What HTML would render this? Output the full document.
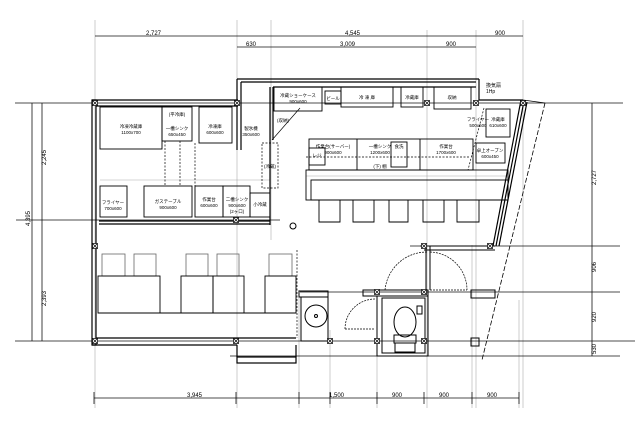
<!DOCTYPE html>
<html><head><meta charset="utf-8"><style>
html,body{margin:0;padding:0;background:#fff;}
svg{display:block;}
text{font-family:"Liberation Sans","Noto Sans CJK JP",sans-serif;fill:#000;}
</style></head><body>
<svg width="640" height="423" viewBox="0 0 640 423" xmlns="http://www.w3.org/2000/svg">
<defs>
<g id="xm"><rect x="-2.5" y="-2.5" width="5" height="5" fill="#fff" stroke="#000" stroke-width="0.7"/><path d="M-2.5 -2.5 L2.5 2.5 M2.5 -2.5 L-2.5 2.5" stroke="#000" stroke-width="0.7"/></g>
</defs>
<g stroke="#aaa" stroke-width="0.6" fill="none">
<line x1="95" y1="20" x2="95" y2="408"/>
<line x1="237" y1="20" x2="237" y2="408"/>
<line x1="271" y1="20" x2="271" y2="240"/>
<line x1="427" y1="30" x2="427" y2="408"/>
<line x1="476" y1="30" x2="476" y2="408"/>
<line x1="523" y1="20" x2="523" y2="408"/>
<line x1="299" y1="290" x2="299" y2="408"/>
<line x1="330" y1="330" x2="330" y2="408"/>
<line x1="377" y1="300" x2="377" y2="408"/>
<line x1="472" y1="245" x2="472" y2="408"/>
<line x1="519" y1="300" x2="519" y2="408"/>
<line x1="100" y1="180" x2="270" y2="180"/>
<line x1="306" y1="176" x2="508" y2="176"/>
</g>
<g stroke="#111" stroke-width="0.8" fill="none">
<line x1="95" y1="36" x2="523" y2="36"/>
<line x1="237" y1="47" x2="476" y2="47"/>
<line x1="15" y1="103" x2="623" y2="103"/>
<line x1="15" y1="341" x2="635" y2="341"/>
<line x1="410" y1="246" x2="620" y2="246"/>
<line x1="300" y1="292" x2="620" y2="292"/>
<line x1="230" y1="356" x2="620" y2="356"/>
<line x1="16" y1="220" x2="280" y2="220"/>
<line x1="32" y1="103" x2="32" y2="341"/>
<line x1="42" y1="103" x2="42" y2="341"/>
<line x1="592" y1="103" x2="592" y2="356"/>
<line x1="94" y1="398" x2="519" y2="398"/>
</g>
<g stroke="#111" stroke-width="0.8">
<line x1="94" y1="392" x2="94" y2="404"/><line x1="236" y1="392" x2="236" y2="404"/>
<line x1="299" y1="392" x2="299" y2="404"/><line x1="330" y1="392" x2="330" y2="404"/>
<line x1="377" y1="392" x2="377" y2="404"/><line x1="424" y1="392" x2="424" y2="404"/>
<line x1="472" y1="392" x2="472" y2="404"/><line x1="519" y1="392" x2="519" y2="404"/>
</g>
<g stroke="#000" stroke-width="1.2" fill="none">
<rect x="92" y="100" width="4" height="245"/>
<line x1="92" y1="100" x2="238" y2="100"/>
<line x1="96" y1="106" x2="238" y2="106"/>
<line x1="237" y1="79" x2="479" y2="79"/>
<line x1="241" y1="82" x2="476" y2="82"/>
<line x1="237" y1="79" x2="237" y2="150"/>
<line x1="241" y1="82" x2="241" y2="150"/>
<line x1="479" y1="79" x2="479" y2="100"/>
<line x1="479" y1="100" x2="523" y2="100"/>
<line x1="270" y1="87" x2="270" y2="225"/>
<line x1="273" y1="87" x2="273" y2="140"/>
<line x1="273" y1="87" x2="476" y2="87"/>
<line x1="96" y1="338" x2="296" y2="338"/>
<line x1="92" y1="345" x2="237" y2="345"/>
<line x1="99" y1="221" x2="270" y2="221"/>
<line x1="99" y1="224" x2="270" y2="224"/>
<rect x="237" y="357" width="59" height="6"/>
<line x1="237" y1="345" x2="237" y2="357"/>
<line x1="296" y1="345" x2="296" y2="357"/>
<line x1="521" y1="100" x2="493" y2="246"/>
<line x1="524" y1="101" x2="496" y2="246"/>
<line x1="527" y1="102" x2="499" y2="246"/>
</g>
<line x1="545" y1="103" x2="482" y2="360" stroke="#000" stroke-width="0.8" stroke-dasharray="5,2"/>
<line x1="523" y1="100" x2="545" y2="103" stroke="#000" stroke-width="0.8"/>
<g stroke="#000" stroke-width="0.9" fill="none">
<rect x="100" y="107" width="62" height="42"/>
<rect x="162" y="107" width="30" height="34"/>
<rect x="199" y="107" width="33" height="36"/>
<rect x="100" y="186" width="27" height="31"/>
<rect x="144" y="186" width="48" height="31"/>
<rect x="195" y="186" width="28" height="31"/>
<rect x="223" y="186" width="27" height="31"/>
<rect x="250" y="193" width="20" height="24"/>
<rect x="274" y="87" width="48" height="24"/>
<rect x="325" y="91" width="16" height="13"/>
<rect x="341" y="87" width="52" height="20"/>
<rect x="401" y="87" width="22" height="20"/>
<rect x="434" y="87" width="37" height="22"/>
<rect x="309" y="139" width="164" height="31"/>
<line x1="357" y1="139" x2="357" y2="170"/>
<line x1="420" y1="139" x2="420" y2="170"/>
<rect x="391" y="142" width="16" height="25"/>
<rect x="309" y="148" width="16" height="17"/>
<rect x="306" y="170" width="202" height="30"/>
<rect x="311" y="180" width="197" height="20"/>
<rect x="476" y="143" width="29" height="20"/>
<rect x="486" y="109" width="24" height="28"/>
</g>
<g stroke="#000" stroke-width="0.7" fill="none" stroke-dasharray="2,1.5">
<rect x="262" y="143" width="16" height="45"/>
<line x1="165" y1="141" x2="165" y2="186"/>
<line x1="180" y1="141" x2="180" y2="186"/>
<line x1="195" y1="143" x2="195" y2="186"/>
<line x1="306" y1="157" x2="470" y2="157"/>
<line x1="484" y1="108" x2="468" y2="170"/>
<line x1="297" y1="250" x2="297" y2="338"/>
</g>
<line x1="272" y1="140" x2="300" y2="108" stroke="#000" stroke-width="0.7"/>
<g stroke="#000" stroke-width="0.9" fill="none">
<path d="M319 200 V222 H340 V200"/><path d="M353 200 V222 H374 V200"/>
<path d="M389 200 V222 H408 V200"/><path d="M423 200 V222 H444 V200"/>
<path d="M457 200 V222 H479 V200"/>
</g>
<g stroke="#666" stroke-width="0.8" fill="none">
<rect x="102" y="254" width="23" height="22"/><rect x="134" y="254" width="22" height="22"/>
<rect x="186" y="254" width="22" height="22"/><rect x="217" y="254" width="22" height="22"/>
<rect x="269" y="254" width="23" height="22"/>
</g>
<g stroke="#000" stroke-width="0.9" fill="none">
<rect x="98" y="276" width="62" height="37"/><rect x="181" y="276" width="32" height="37"/>
<rect x="213" y="276" width="31" height="37"/><rect x="265" y="276" width="31" height="37"/>
<line x1="98" y1="313" x2="296" y2="313"/>
</g>
<g stroke="#000" stroke-width="1" fill="none">
<rect x="299" y="291" width="29" height="6"/>
<rect x="301" y="297" width="27" height="44"/>
<circle cx="316" cy="316" r="11"/>
<circle cx="316" cy="316" r="1.5"/>
<rect x="363" y="290" width="65" height="6"/>
<rect x="377" y="296" width="51" height="60"/>
<rect x="382" y="298" width="43" height="55"/>
<ellipse cx="405" cy="322" rx="11" ry="15"/>
<rect x="394" y="335" width="22" height="8"/>
<rect x="395" y="343" width="20" height="9"/>
<rect x="417" y="306" width="5" height="8"/>
<line x1="426" y1="246" x2="426" y2="290"/>
<line x1="430" y1="246" x2="430" y2="290"/>
<line x1="420" y1="246" x2="495" y2="246"/>
<line x1="424" y1="250" x2="495" y2="250"/>
<rect x="471" y="290" width="24" height="8"/>
<rect x="471" y="338" width="8" height="8"/>
</g>
<g stroke="#000" stroke-width="0.7" fill="none" stroke-dasharray="2,1">
<path d="M385 290 A42 42 0 0 1 427 252"/>
<path d="M430 252 A38 38 0 0 1 467 290"/>
<line x1="430" y1="290" x2="467" y2="290"/>
<path d="M345 329 A30 30 0 0 1 375 299"/>
<line x1="345" y1="329" x2="375" y2="329"/>
</g>
<circle cx="293" cy="226" r="3" stroke="#000" fill="none"/>
<g>
<use href="#xm" x="95" y="103"/><use href="#xm" x="237" y="103"/>
<use href="#xm" x="95" y="246"/><use href="#xm" x="95" y="341"/>
<use href="#xm" x="236" y="341"/><use href="#xm" x="330" y="341"/>
<use href="#xm" x="377" y="341"/><use href="#xm" x="424" y="341"/>
<use href="#xm" x="377" y="292"/><use href="#xm" x="424" y="292"/>
<use href="#xm" x="424" y="246"/><use href="#xm" x="490" y="246"/>
<use href="#xm" x="236" y="220"/><use href="#xm" x="427" y="103"/>
<use href="#xm" x="476" y="103"/><use href="#xm" x="523" y="103"/>
</g>
<g font-size="6">
<text x="146" y="35">2,727</text><text x="345" y="35">4,545</text><text x="495" y="35">900</text>
<text x="246" y="46">630</text><text x="340" y="46">3,009</text><text x="446" y="46">900</text>
<text x="187" y="397">3,945</text><text x="329" y="397">1,500</text><text x="392" y="397">900</text>
<text x="439" y="397">900</text><text x="487" y="397">900</text>
<text x="486" y="87" font-size="5">換気扇</text><text x="486" y="93" font-size="5">1Hp</text>
</g>
<g font-size="6">
<text transform="translate(46,165) rotate(-90)">2,245</text>
<text transform="translate(30,226) rotate(-90)">4,395</text>
<text transform="translate(46,306) rotate(-90)">2,393</text>
<text transform="translate(596,185) rotate(-90)">2,727</text>
<text transform="translate(596,272) rotate(-90)">906</text>
<text transform="translate(596,322) rotate(-90)">920</text>
<text transform="translate(596,354) rotate(-90)">530</text>
</g>
<g font-size="4.5" text-anchor="middle">
<text x="131" y="128">冷凍冷蔵庫</text><text x="131" y="134">1100x700</text>
<text x="177" y="116">(平冷庫)</text><text x="177" y="130">一槽シンク</text><text x="177" y="136">650x450</text>
<text x="215" y="128">冷凍庫</text><text x="215" y="134">600x600</text>
<text x="251" y="130">製氷機</text><text x="251" y="136">350x600</text>
<text x="283" y="122">(収納)</text><text x="270" y="168">(冷蔵)</text>
<text x="113" y="204">フライヤー</text><text x="113" y="210">700x600</text>
<text x="168" y="203">ガステーブル</text><text x="168" y="209">900x600</text>
<text x="209" y="201">作業台</text><text x="209" y="207">600x600</text>
<text x="237" y="201">二槽シンク</text><text x="237" y="207">900x600</text><text x="237" y="213">(2ヶ口)</text>
<text x="260" y="206">小冷蔵</text>
<text x="298" y="97">冷蔵ショーケース</text><text x="298" y="103">900x600</text>
<text x="333" y="100">ビール</text><text x="367" y="99">冷 凍 庫</text>
<text x="412" y="99">冷蔵庫</text><text x="452" y="99">収納</text>
<text x="333" y="148">作業台(サーバー)</text><text x="333" y="154">900x600</text>
<text x="317" y="157">レジ</text>
<text x="380" y="148">一槽シンク</text><text x="380" y="154">1200x600</text>
<text x="399" y="148">食洗</text><text x="380" y="168">(下) 棚</text>
<text x="446" y="148">作業台</text><text x="446" y="154">1700x600</text>
<text x="490" y="152">卓上オーブン</text><text x="490" y="158">600x450</text>
<text x="478" y="121">フライヤー</text><text x="478" y="127">500x600</text>
<text x="498" y="121">冷蔵庫</text><text x="498" y="127">610x600</text>
</g>
</svg>
</body></html>
